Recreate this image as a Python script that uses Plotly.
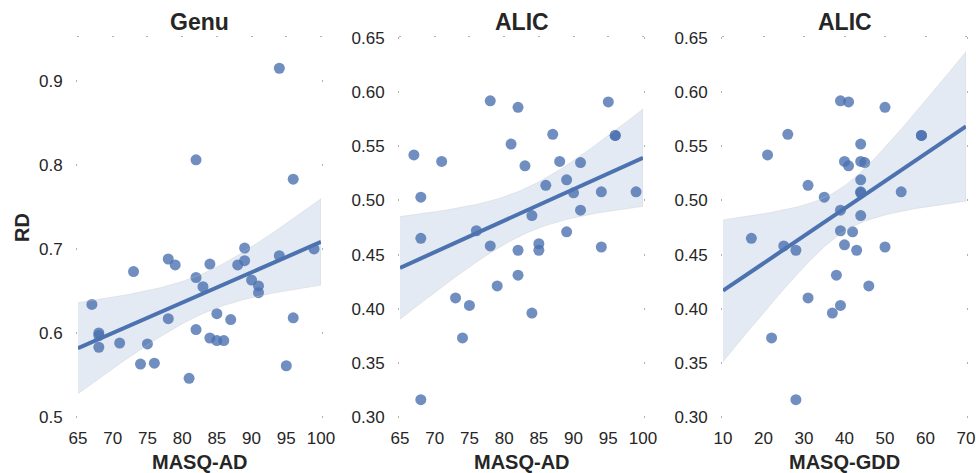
import numpy as np
import plotly.graph_objects as go

# ---------------- data ----------------
genu_masq_ad = [94, 82, 96, 89, 99, 94, 78, 89, 79, 84, 88, 73, 82, 90, 91, 83, 91, 67,
                85, 78, 96, 87, 68, 68, 82, 68, 71, 75, 84, 85, 86, 74, 76, 81, 95]
genu_rd = [0.915, 0.806, 0.783, 0.701, 0.700, 0.692, 0.688, 0.686, 0.681, 0.682, 0.681,
           0.673, 0.666, 0.663, 0.656, 0.655, 0.648, 0.634, 0.623, 0.617, 0.618, 0.616,
           0.600, 0.597, 0.604, 0.583, 0.588, 0.587, 0.594, 0.591, 0.591, 0.563, 0.564,
           0.546, 0.561]

alic_masq_ad = [78, 82, 95, 87, 96, 96, 81, 67, 71, 88, 91, 83, 89, 86, 68, 90, 94, 99,
                91, 84, 76, 89, 68, 78, 85, 85, 82, 94, 82, 79, 73, 75, 84, 74, 68]
alic_rd_ad = [0.592, 0.586, 0.591, 0.561, 0.560, 0.560, 0.552, 0.542, 0.536, 0.536, 0.535,
              0.532, 0.519, 0.514, 0.503, 0.507, 0.508, 0.508, 0.491, 0.486, 0.472, 0.471,
              0.465, 0.458, 0.460, 0.454, 0.454, 0.457, 0.431, 0.421, 0.410, 0.403, 0.396,
              0.373, 0.316]

alic_masq_gdd = [39, 41, 50, 26, 59, 59, 44, 21, 40, 44, 45, 41, 44, 31, 35, 44, 44, 54,
                 39, 44, 39, 42, 17, 25, 40, 28, 43, 50, 38, 46, 31, 39, 37, 22, 28]
alic_rd_gdd = [0.592, 0.591, 0.586, 0.561, 0.560, 0.560, 0.552, 0.542, 0.536, 0.536, 0.535,
               0.532, 0.519, 0.514, 0.503, 0.507, 0.508, 0.508, 0.491, 0.486, 0.472, 0.471,
               0.465, 0.458, 0.459, 0.454, 0.454, 0.457, 0.431, 0.421, 0.410, 0.403, 0.396,
               0.373, 0.316]

panel_titles = ["Genu", "ALIC", "ALIC"]
x_titles = ["MASQ-AD", "MASQ-AD", "MASQ-GDD"]
y_title = "RD"
x_ticks = [[65, 70, 75, 80, 85, 90, 95, 100], [65, 70, 75, 80, 85, 90, 95, 100],
           [10, 20, 30, 40, 50, 60, 70]]
y_ticks = [[0.5, 0.6, 0.7, 0.8, 0.9], [0.30, 0.35, 0.40, 0.45, 0.50, 0.55, 0.60, 0.65],
           [0.30, 0.35, 0.40, 0.45, 0.50, 0.55, 0.60, 0.65]]
y_tick_text = [["0.5", "0.6", "0.7", "0.8", "0.9"],
               ["0.30", "0.35", "0.40", "0.45", "0.50", "0.55", "0.60", "0.65"],
               ["0.30", "0.35", "0.40", "0.45", "0.50", "0.55", "0.60", "0.65"]]
x_ranges = [[65, 100], [65, 100], [10, 70]]
y_ranges = [[0.5, 0.951], [0.30, 0.65], [0.30, 0.65]]

panels = [(genu_masq_ad, genu_rd), (alic_masq_ad, alic_rd_ad), (alic_masq_gdd, alic_rd_gdd)]

# ---------------- style ----------------
W, H = 976, 473
BLUE = "#4C72B0"
TXT = "#262626"
FONT = "Liberation Sans, Arial, sans-serif"
x_px = [(78, 321), (400, 643), (723, 966)]
y_px = (38, 417)

fig = go.Figure()
layout = dict(width=W, height=H, margin=dict(l=0, r=0, t=0, b=0, autoexpand=False),
              paper_bgcolor="white", plot_bgcolor="white", showlegend=False,
              font=dict(family=FONT, color=TXT, size=17))
annotations = []

T_CRIT = 2.035  # ~95% two-sided t for df=33

for i, (xs, ys) in enumerate(panels):
    k = "" if i == 0 else str(i + 1)
    xa, ya = "x" + k, "y" + k
    x = np.asarray(xs, float)
    y = np.asarray(ys, float)
    n = len(x)
    b1, b0 = np.polyfit(x, y, 1)
    xg = np.linspace(x_ranges[i][0], x_ranges[i][1], 100)
    yg = b0 + b1 * xg
    resid = y - (b0 + b1 * x)
    s = np.sqrt(np.sum(resid ** 2) / (n - 2))
    se = s * np.sqrt(1.0 / n + (xg - x.mean()) ** 2 / np.sum((x - x.mean()) ** 2))
    lo, hi = yg - T_CRIT * se, yg + T_CRIT * se

    fig.add_trace(go.Scatter(x=x, y=y, mode="markers", xaxis=xa, yaxis=ya,
                             marker=dict(size=11, color=BLUE, opacity=0.8,
                                         line=dict(width=0)), hoverinfo="skip"))
    fig.add_trace(go.Scatter(x=np.concatenate([xg, xg[::-1]]),
                             y=np.concatenate([hi, lo[::-1]]),
                             fill="toself", fillcolor="rgba(76,114,176,0.15)",
                             line=dict(width=0.6, color="rgba(200,200,200,0.6)"),
                             mode="lines", xaxis=xa, yaxis=ya, hoverinfo="skip"))
    fig.add_trace(go.Scatter(x=xg, y=yg, mode="lines", xaxis=xa, yaxis=ya,
                             line=dict(color=BLUE, width=4), hoverinfo="skip"))

    dx = [x_px[i][0] / W, x_px[i][1] / W]
    dy = [1 - y_px[1] / H, 1 - y_px[0] / H]
    layout["xaxis" + k] = dict(domain=dx, anchor=ya, range=x_ranges[i],
                               tickvals=x_ticks[i], ticks="", showline=False,
                               zeroline=False, showgrid=True, gridcolor="white",
                               gridwidth=1, layer="above traces", automargin=False,
                               ticklabelstandoff=9,
                               tickfont=dict(size=17, color=TXT, family=FONT))
    layout["yaxis" + k] = dict(domain=dy, anchor=xa, range=y_ranges[i],
                               tickvals=y_ticks[i], ticktext=y_tick_text[i],
                               ticks="outside", ticklen=1, tickwidth=1.5,
                               tickcolor="#b0b0b0", mirror="ticks", automargin=False,
                               showline=False, zeroline=False, showgrid=True,
                               gridcolor="white", gridwidth=1, layer="above traces",
                               ticklabelstandoff=10,
                               tickfont=dict(size=17, color=TXT, family=FONT))
    # top tick marks (x ticks on upper edge)
    kt = str(i + 4)
    layout["xaxis" + kt] = dict(domain=dx, anchor=ya, overlaying=xa, side="top",
                                range=x_ranges[i], tickvals=x_ticks[i], automargin=False,
                                showticklabels=False, ticks="outside", ticklen=1,
                                tickwidth=1.5, tickcolor="#b0b0b0", showgrid=False,
                                zeroline=False, showline=False)
    fig.add_trace(go.Scatter(x=[None], y=[None], xaxis="x" + kt, yaxis=ya,
                             hoverinfo="skip", showlegend=False))

    cx = (x_px[i][0] + x_px[i][1]) / 2 / W
    annotations.append(dict(text="<b>%s</b>" % panel_titles[i], x=cx, y=1 - 22 / H,
                            xref="paper", yref="paper", showarrow=False,
                            xanchor="center", yanchor="middle",
                            font=dict(size=23, color=TXT, family=FONT)))
    annotations.append(dict(text="<b>%s</b>" % x_titles[i], x=cx, y=1 - 462 / H,
                            xref="paper", yref="paper", showarrow=False,
                            xanchor="center", yanchor="middle",
                            font=dict(size=20, color=TXT, family=FONT)))

annotations.append(dict(text="<b>%s</b>" % y_title, x=22 / W, y=1 - 228 / H,
                        xref="paper", yref="paper", showarrow=False, textangle=-90,
                        xanchor="center", yanchor="middle",
                        font=dict(size=20, color=TXT, family=FONT)))
layout["annotations"] = annotations
fig.update_layout(**layout)
fig.write_html("out.html", config={"displayModeBar": False},
               post_script="document.body.style.margin='0';"
                           "document.body.style.overflow='hidden';")
